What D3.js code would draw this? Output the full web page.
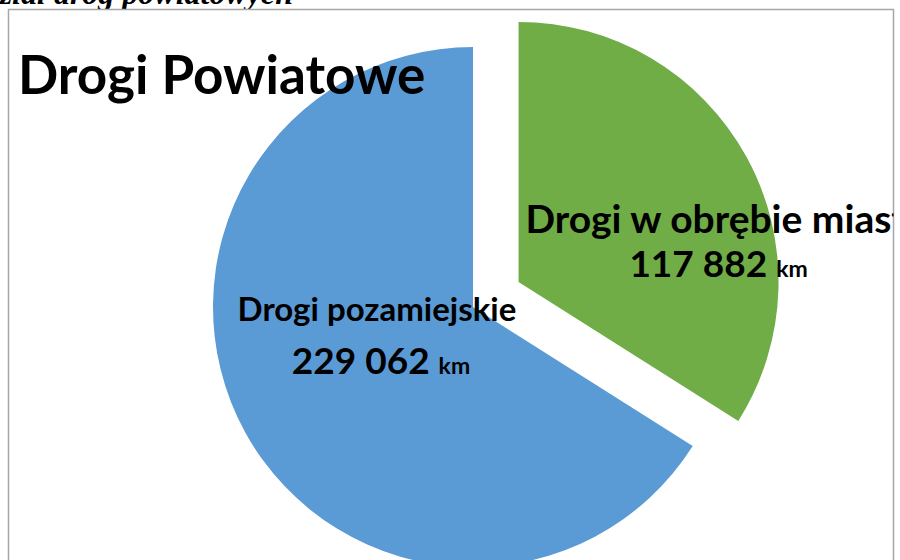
<!DOCTYPE html>
<html>
<head>
<meta charset="utf-8">
<script src="https://cdn.jsdelivr.net/npm/d3@7"></script>
<style>
  body { margin: 0; background: #fff; }
  svg { display: block; }
</style>
</head>
<body>
<div id="chart"></div>
<script>
// Dane
const categories = ['Drogi w obrębie miasta', 'Drogi pozamiejskie'];
const values = [117882, 229062];
const valueLabels = ['117 882', '229 062'];
const unit = 'km';
const colors = ['#70AD47', '#5B9BD5'];

const W = 900, H = 560;
const cx = 473, cy = 307, radius = 260;
const explode = [52, 0];
// położenie etykiet względem środka wycinka
const labelPos = [
    { dx1: 207, dx: 200, dy: -49, gap: 44, size: 39 },
    { dx1: -96, dx: -92, dy: 14, gap: 53, size: 33 }
];

const svg = d3.select('#chart')
    .append('svg')
    .attr('width', W)
    .attr('height', H);

// podpis nad wykresem (ucięty)
svg.append('text')
    .attr('x', 293)
    .attr('y', 4)
    .attr('text-anchor', 'end')
    .style('font-family', '"Liberation Serif", serif')
    .style('font-weight', 'bold')
    .style('font-style', 'italic')
    .style('font-size', '32px')
    .text('Podział dróg powiatowych');

svg.append('clipPath')
    .attr('id', 'frame')
    .append('rect')
    .attr('x', 8.5).attr('y', 9.5)
    .attr('width', 885).attr('height', 600);

// ramka
svg.append('rect')
    .attr('x', 8.5).attr('y', 9.5)
    .attr('width', 885).attr('height', 600)
    .attr('fill', '#fff')
    .attr('stroke', '#a6a6a6')
    .attr('stroke-width', 1.5);

const g = svg.append('g').attr('clip-path', 'url(#frame)');

const pie = d3.pie().sort(null).value(d => d);
const arcs = pie(values);
const arc = d3.arc().innerRadius(0).outerRadius(radius);

const slices = g.selectAll('g.slice')
    .data(arcs)
    .enter()
    .append('g')
    .attr('class', 'slice')
    .attr('transform', (d, i) => {
        const a = (d.startAngle + d.endAngle) / 2;
        const ox = Math.sin(a) * explode[i];
        const oy = -Math.cos(a) * explode[i];
        return `translate(${cx + ox},${cy + oy})`;
    });

slices.append('path')
    .attr('d', arc)
    .attr('fill', (d, i) => colors[i]);

// tytuł
g.append('text')
    .attr('x', 18)
    .attr('y', 94)
    .style('font-family', 'Lato, sans-serif')
    .style('font-weight', 'bold')
    .style('font-size', '53px')
    .attr('fill', '#000')
    .text('Drogi Powiatowe');

// etykiety
const labels = slices.append('text')
    .attr('text-anchor', 'middle')
    .style('font-family', 'Lato, sans-serif')
    .style('font-weight', 'bold')
    .attr('fill', '#000');

labels.append('tspan')
    .attr('x', (d, i) => labelPos[i].dx1)
    .attr('y', (d, i) => labelPos[i].dy)
    .style('font-size', (d, i) => labelPos[i].size + 'px')
    .text((d, i) => categories[i]);

labels.append('tspan')
    .attr('x', (d, i) => labelPos[i].dx)
    .attr('y', (d, i) => labelPos[i].dy + labelPos[i].gap)
    .style('font-size', '37px')
    .text((d, i) => valueLabels[i] + ' ');

labels.append('tspan')
    .style('font-size', '23px')
    .text(unit);
</script>
</body>
</html>
